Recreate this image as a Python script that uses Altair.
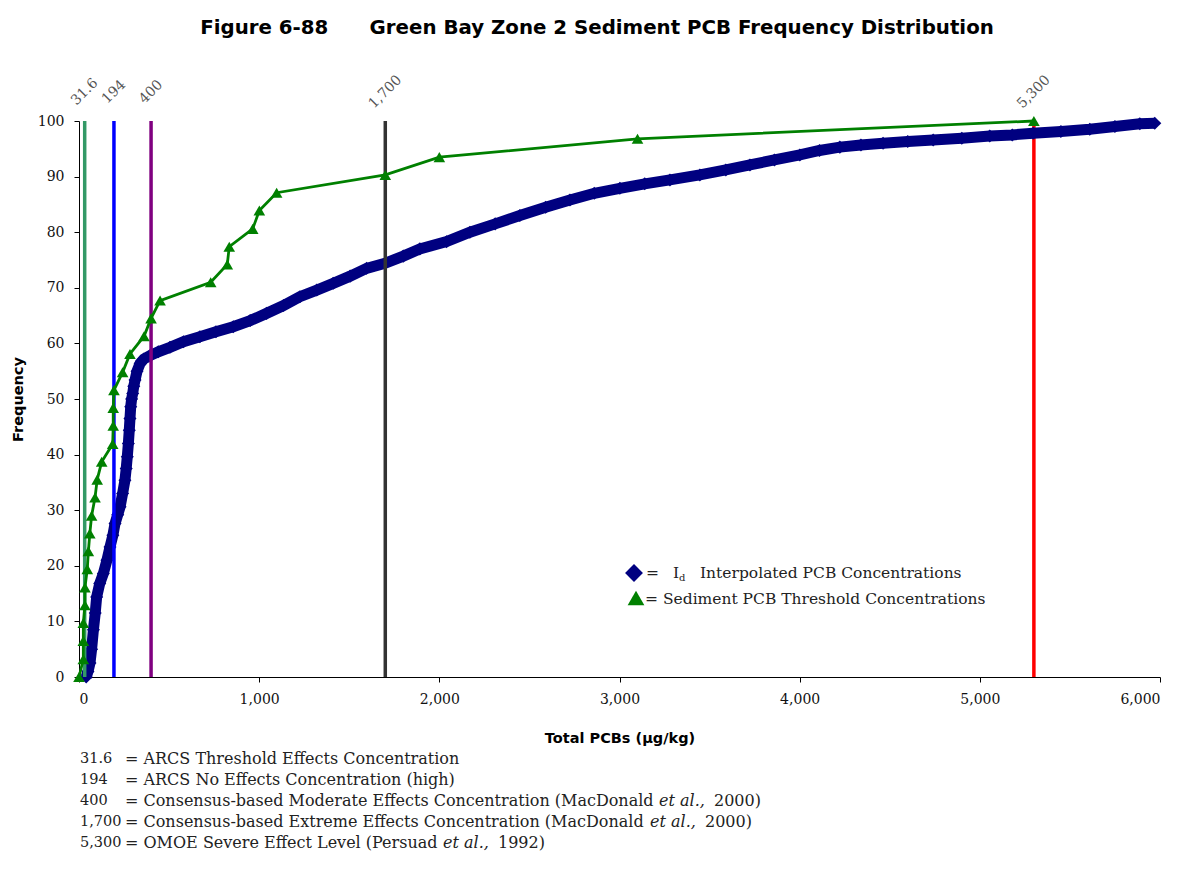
import altair as alt
import pandas as pd

# ---------------- data ----------------
navy_x = [40, 50, 61, 70, 80, 90, 98, 115, 135, 155, 172, 188, 200, 215, 228, 242, 255,
          262, 268, 274, 279, 283, 287, 292, 298, 304, 311, 322, 339, 360, 394, 440, 505,
          580, 671, 760, 856, 950, 1041, 1135, 1226, 1320, 1411, 1505, 1596, 1698, 1800,
          1892, 2040, 2170, 2310, 2447, 2590, 2725, 2860, 3002, 3140, 3280, 3446, 3590,
          3724, 3860, 4001, 4110, 4223, 4340, 4463, 4600, 4741, 4900, 5055, 5180, 5296,
          5450, 5610, 5750, 5888, 5971]
navy_y = [0, 1.0, 2.5, 5.0, 8.5, 11.5, 14.4, 16.8, 18.6, 21.0, 23.4, 25.5, 27.6, 29.2, 30.6,
          33.0, 35.4, 37.5, 39.6, 42.0, 44.4, 46.5, 48.6, 50.0, 51.0, 52.3, 53.4, 55.0, 56.4,
          57.2, 57.8, 58.5, 59.3, 60.3, 61.2, 62.1, 63.0, 64.1, 65.4, 66.8, 68.4, 69.6, 70.8,
          72.1, 73.5, 74.4, 75.7, 77.0, 78.3, 80.0, 81.5, 83.0, 84.5, 85.8, 87.0, 87.9, 88.7,
          89.4, 90.3, 91.2, 92.1, 93.0, 93.9, 94.7, 95.3, 95.7, 96.0, 96.3, 96.6, 96.9, 97.3,
          97.5, 97.8, 98.1, 98.5, 99.0, 99.5, 99.6]

green_x = [0, 24, 24, 24, 33, 33, 46, 52, 60, 70, 89, 101, 126, 187, 190, 190, 194, 242, 283,
           361, 400, 450, 731, 823, 834, 964, 1001, 1097, 1700, 2000, 3100, 5300]
green_y = [0, 3.2, 6.5, 9.7, 12.9, 16.1, 19.4, 22.6, 25.8, 29.0, 32.3, 35.5, 38.7, 41.9, 45.2,
           48.4, 51.6, 54.8, 58.1, 61.3, 64.5, 67.7, 71.0, 74.2, 77.4, 80.6, 83.9, 87.1, 90.3,
           93.5, 96.8, 100]

thresh_values = [31.6, 194, 400, 1700, 5300]
thresh_labels = ["31.6", "194", "400", "1,700", "5,300"]
thresh_colors = ["#339966", "#0000FF", "#800080", "#333333", "#FF0000"]

x_ticks = [0, 1000, 2000, 3000, 4000, 5000, 6000]
y_ticks = [0, 10, 20, 30, 40, 50, 60, 70, 80, 90, 100]

foot_nums = ["31.6", "194", "400", "1,700", "5,300"]
foot_main = ["= ARCS Threshold Effects Concentration",
             "= ARCS No Effects Concentration (high)",
             "= Consensus-based Moderate Effects Concentration (MacDonald",
             "= Consensus-based Extreme Effects Concentration (MacDonald",
             "= OMOE Severe Effect Level (Persuad"]
foot_ital = ["", "", "et al.,", "et al.,", "et al.,"]
foot_year = ["", "", "2000)", "2000)", "1992)"]

title_text = "Figure 6-88" + "\u00a0" * 6 + "Green Bay Zone 2 Sediment PCB Frequency Distribution"

assert len(navy_x) == len(navy_y) and len(green_x) == len(green_y)

# ---------------- tables ----------------
navy = pd.DataFrame({"x": navy_x, "y": navy_y, "i": range(len(navy_x))})
green = pd.DataFrame({"x": green_x, "y": green_y, "i": range(len(green_x))})
thr = pd.DataFrame({"value": thresh_values, "label": thresh_labels,
                    "y0": 0, "y1": 100})

W, H = 1081, 556
SERIF = "DejaVu Serif"
SANS = "DejaVu Sans"
FN = 16          # footnote font size
TXT = "#222"

xs = alt.Scale(domain=[0, 6000], nice=False, zero=False)
ys = alt.Scale(domain=[0, 100], nice=False)
cs = alt.Scale(domain=thresh_labels, range=thresh_colors)

x_axis = alt.Axis(values=x_ticks, format=",d", title="Total PCBs (µg/kg)", grid=False,
                  labelFont=SERIF, labelFontSize=14, labelColor="#111", labelPadding=10,
                  tickSize=5, tickColor="black", domainColor="black",
                  titleFont=SANS, titleFontSize=14.5, titleFontWeight="bold",
                  titleColor="black", titleY=61, titleBaseline="middle")
y_axis = alt.Axis(values=y_ticks, title="Frequency", grid=False,
                  labelFont=SERIF, labelFontSize=14, labelColor="#111", labelPadding=10,
                  tickSize=5, tickColor="black", domainColor="black",
                  titleFont=SANS, titleFontSize=14.5, titleFontWeight="bold",
                  titleColor="black", titleX=-61, titleBaseline="middle")

base_thr = alt.Chart(thr)

red_rule = base_thr.transform_filter(alt.datum.label == "5,300").mark_rule(strokeWidth=3.5).encode(
    x=alt.X("value:Q", scale=xs, axis=x_axis),
    y=alt.Y("y0:Q", scale=ys, axis=y_axis),
    y2="y1:Q",
    color=alt.Color("label:N", scale=cs, legend=None))

navy_line = alt.Chart(navy).mark_line(color="#000080", strokeWidth=11).encode(
    x=alt.X("x:Q", scale=xs), y=alt.Y("y:Q", scale=ys), order="i:Q")
navy_pts = alt.Chart(navy).mark_point(shape="diamond", filled=True, opacity=1,
                                      color="#000080", size=170).encode(
    x=alt.X("x:Q", scale=xs), y=alt.Y("y:Q", scale=ys))

rules = base_thr.transform_filter(alt.datum.label != "5,300").mark_rule(strokeWidth=3.5).encode(
    x=alt.X("value:Q", scale=xs), y=alt.Y("y0:Q", scale=ys), y2="y1:Q",
    color=alt.Color("label:N", scale=cs, legend=None))

top_labels = base_thr.mark_text(angle=315, align="center", baseline="middle",
                                font=SERIF, fontSize=14, color="#555").encode(
    x=alt.X("value:Q", scale=xs), y=alt.value(-29), text="label:N")

green_line = alt.Chart(green).mark_line(color="#008000", strokeWidth=2.8).encode(
    x=alt.X("x:Q", scale=xs), y=alt.Y("y:Q", scale=ys), order="i:Q")
green_pts = alt.Chart(green).mark_point(shape="triangle-up", filled=True, opacity=1,
                                        color="#008000", size=135).encode(
    x=alt.X("x:Q", scale=xs), y=alt.Y("y:Q", scale=ys))

# title
title = alt.Chart(pd.DataFrame({"t": [title_text]})).mark_text(
    font=SANS, fontSize=19.8, fontWeight="bold", color="black", align="center",
    baseline="middle").encode(x=alt.value(518), y=alt.value(-93), text="t:N")

# legend (inside plot)
leg_sym1 = alt.Chart(pd.DataFrame({"k": [1]})).mark_point(
    shape="diamond", filled=True, opacity=1, color="#000080", size=320).encode(
    x=alt.value(555), y=alt.value(452))
leg_sym2 = alt.Chart(pd.DataFrame({"k": [1]})).mark_point(
    shape="triangle-up", filled=True, opacity=1, color="#008000", size=280).encode(
    x=alt.value(557), y=alt.value(477))
leg_txt = alt.Chart(pd.DataFrame({
    "t": ["=", "I", "Interpolated PCB Concentrations", "= Sediment PCB Threshold Concentrations"],
    "px": [567, 594, 621, 566], "py": [452, 452, 452, 478]})).mark_text(
    font=SERIF, fontSize=15.5, color=TXT, align="left", baseline="middle").encode(
    x=alt.X("px:Q", scale=None), y=alt.Y("py:Q", scale=None), text="t:N")
leg_sub = alt.Chart(pd.DataFrame({"t": ["d"]})).mark_text(
    font=SERIF, fontSize=10, color=TXT, align="left", baseline="middle").encode(
    x=alt.value(600), y=alt.value(457), text="t:N")

# footnotes
rows = [759, 780, 801, 822, 843]
ital_x = [0, 0, 580, 571, 364]
year_x = [0, 0, 635, 626, 419]
fn = pd.DataFrame({"num": foot_nums, "main": foot_main, "ital": foot_ital,
                   "year": foot_year, "py": [r - 121 for r in rows],
                   "ix": ital_x, "yx": year_x})
fn_base = alt.Chart(fn)
fn_num = fn_base.mark_text(font=SERIF, fontSize=14.5, color=TXT, align="left",
                           baseline="middle").encode(
    x=alt.value(1), y=alt.Y("py:Q", scale=None), text="num:N")
fn_main = fn_base.mark_text(font=SERIF, fontSize=FN, color=TXT, align="left",
                            baseline="middle").encode(
    x=alt.value(46), y=alt.Y("py:Q", scale=None), text="main:N")
fn_ital = fn_base.transform_filter(alt.datum.ital != "").mark_text(
    font=SERIF, fontSize=FN, fontStyle="italic", color=TXT, align="left",
    baseline="middle").encode(
    x=alt.X("ix:Q", scale=None), y=alt.Y("py:Q", scale=None), text="ital:N")
fn_year = fn_base.transform_filter(alt.datum.year != "").mark_text(
    font=SERIF, fontSize=FN, color=TXT, align="left", baseline="middle").encode(
    x=alt.X("yx:Q", scale=None), y=alt.Y("py:Q", scale=None), text="year:N")

chart = alt.layer(
    red_rule, navy_line, navy_pts, rules, green_line, green_pts, top_labels,
    title, leg_sym1, leg_sym2, leg_txt, leg_sub, fn_num, fn_main, fn_ital, fn_year
).properties(
    width=W, height=H,
    autosize=alt.AutoSizeParams(type="none"),
    padding={"left": 71, "top": 113, "right": 18, "bottom": 181},
    background="white"
).configure_view(stroke=None)

chart.save("out.html", embed_options={"renderer": "svg", "actions": False})
